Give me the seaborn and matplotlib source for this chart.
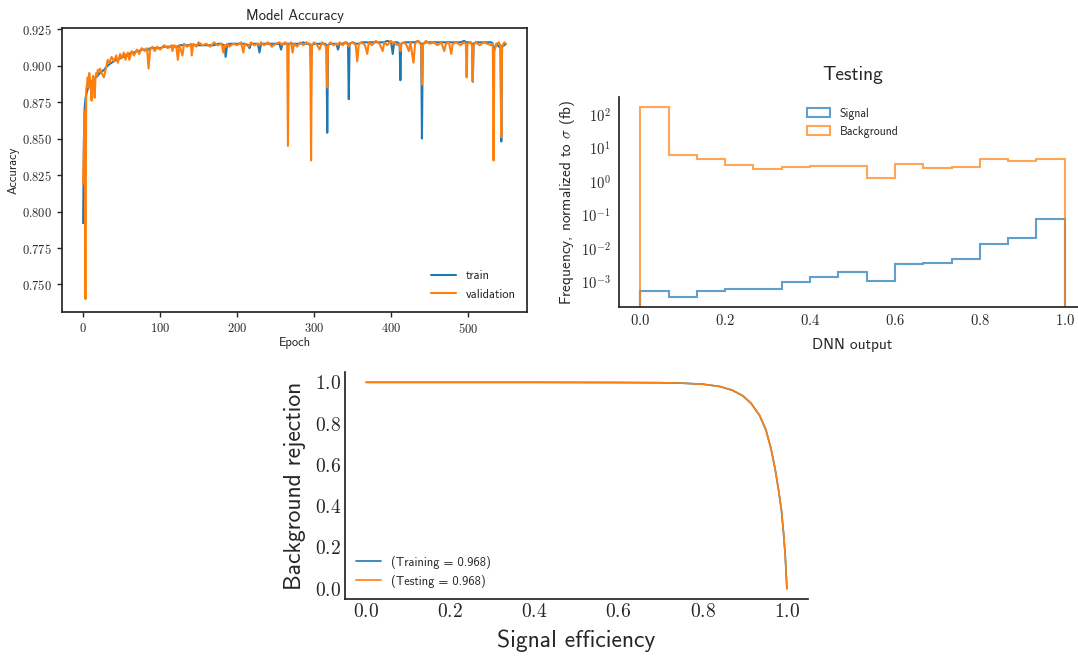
import numpy as np
import pandas as pd
import matplotlib
matplotlib.use("Agg")
import matplotlib.pyplot as plt
from matplotlib.ticker import FuncFormatter, MultipleLocator, LogLocator, NullFormatter
import seaborn as sns

# <--- data --->
# training history (epoch, train accuracy, validation accuracy)
epochs = [
    0, 1, 2, 3, 4, 5, 6, 7, 8, 9, 10, 11, 12, 13, 14, 15, 16, 17, 18, 19, 20,
    22, 24, 27, 30, 32, 34, 37, 40, 43, 45, 48, 50, 53, 55, 58, 60, 63, 66, 70,
    73, 76, 80, 83, 85, 87, 90, 93, 96, 100,
    105, 110, 115, 116, 118, 121, 123, 125, 129, 131, 135, 140, 141, 143, 147,
    150, 155, 160, 165, 170, 175, 180, 182, 184, 185, 187, 190, 195, 200, 205,
    208, 210, 215, 216, 218, 222, 227, 229, 231, 235, 240, 245, 250, 255, 257,
    259, 262, 265, 266, 267, 270, 272, 274, 278, 282, 286, 290, 294, 295, 296,
    297, 300, 304, 307, 310, 314, 316, 317, 318, 321, 325, 329, 331, 333, 337,
    341, 344, 345, 346, 350, 354, 356, 358, 362, 366, 369, 371, 375, 380, 385,
    389, 391, 395, 400, 402, 404, 408, 411, 412, 413, 417, 420, 423, 425, 429,
    431, 435, 439, 440, 441, 445, 450, 455, 460, 465, 469, 471, 475, 478, 480,
    485, 490, 495, 497, 498, 499, 503, 505, 506, 507, 510, 515, 520, 525, 530,
    532, 533, 534, 537, 540, 542, 543, 544, 547, 549,
]
train_acc = [
    0.792, 0.848, 0.871, 0.877, 0.880, 0.882, 0.884, 0.885, 0.886, 0.887, 0.888,
    0.889, 0.889, 0.890, 0.891, 0.891, 0.892, 0.892, 0.893, 0.893, 0.894,
    0.895, 0.896, 0.897, 0.899, 0.900, 0.901, 0.902, 0.903, 0.904, 0.904, 0.905,
    0.906, 0.906, 0.907, 0.908, 0.908, 0.909, 0.909, 0.910, 0.910, 0.911, 0.911,
    0.911, 0.911, 0.912, 0.912, 0.912, 0.912, 0.912,
    0.913, 0.913, 0.913, 0.913, 0.913, 0.913, 0.913, 0.914, 0.914, 0.914, 0.914,
    0.914, 0.914, 0.914, 0.914, 0.914, 0.914, 0.914, 0.914, 0.914, 0.915, 0.915,
    0.914, 0.914, 0.906, 0.914, 0.915, 0.915, 0.915, 0.915, 0.915, 0.915, 0.914,
    0.912, 0.915, 0.915, 0.915, 0.909, 0.915, 0.915, 0.915, 0.915, 0.915, 0.915,
    0.911, 0.915, 0.915, 0.915, 0.915, 0.915, 0.915, 0.915, 0.915, 0.915, 0.915,
    0.916, 0.915, 0.915, 0.914, 0.897, 0.914, 0.915, 0.915, 0.915, 0.915, 0.915,
    0.914, 0.854, 0.914, 0.915, 0.915, 0.915, 0.911, 0.915, 0.915, 0.916, 0.915,
    0.877, 0.915, 0.916, 0.915, 0.915, 0.915, 0.916, 0.916, 0.916, 0.916, 0.916,
    0.916, 0.916, 0.916, 0.916, 0.917, 0.916, 0.908, 0.916, 0.916, 0.915, 0.890,
    0.915, 0.916, 0.916, 0.916, 0.916, 0.916, 0.916, 0.917, 0.915, 0.850, 0.915,
    0.916, 0.916, 0.916, 0.916, 0.916, 0.916, 0.916, 0.916, 0.916, 0.916, 0.916,
    0.916, 0.917, 0.916, 0.916, 0.916, 0.916, 0.915, 0.889, 0.915, 0.916, 0.916,
    0.916, 0.916, 0.916, 0.915, 0.908, 0.912, 0.915, 0.913, 0.914, 0.848, 0.913,
    0.914, 0.915,
]
val_acc = [
    0.819, 0.845, 0.869, 0.740, 0.884, 0.887, 0.892, 0.885, 0.895, 0.889, 0.884,
    0.876, 0.889, 0.893, 0.887, 0.878, 0.891, 0.895, 0.893, 0.897, 0.896,
    0.898, 0.895, 0.892, 0.899, 0.904, 0.902, 0.906, 0.903, 0.907, 0.902, 0.908,
    0.905, 0.909, 0.904, 0.909, 0.904, 0.910, 0.907, 0.911, 0.908, 0.912, 0.910,
    0.912, 0.898, 0.911, 0.913, 0.910, 0.913, 0.911,
    0.914, 0.912, 0.914, 0.910, 0.914, 0.913, 0.904, 0.914, 0.907, 0.915, 0.913,
    0.915, 0.907, 0.915, 0.913, 0.916, 0.914, 0.915, 0.913, 0.916, 0.914, 0.915,
    0.909, 0.914, 0.913, 0.915, 0.913, 0.915, 0.914, 0.916, 0.909, 0.915, 0.913,
    0.914, 0.916, 0.914, 0.915, 0.914, 0.916, 0.914, 0.916, 0.913, 0.915, 0.916,
    0.915, 0.914, 0.916, 0.915, 0.845, 0.914, 0.916, 0.909, 0.915, 0.913, 0.916,
    0.914, 0.916, 0.914, 0.915, 0.835, 0.914, 0.916, 0.914, 0.911, 0.916, 0.914,
    0.913, 0.885, 0.914, 0.916, 0.914, 0.915, 0.914, 0.916, 0.914, 0.916, 0.914,
    0.913, 0.915, 0.916, 0.914, 0.903, 0.915, 0.916, 0.914, 0.908, 0.916, 0.914,
    0.917, 0.915, 0.910, 0.916, 0.914, 0.917, 0.915, 0.916, 0.914, 0.915, 0.910,
    0.915, 0.916, 0.914, 0.910, 0.916, 0.902, 0.915, 0.917, 0.914, 0.887, 0.914,
    0.917, 0.915, 0.916, 0.914, 0.916, 0.910, 0.915, 0.916, 0.908, 0.915, 0.916,
    0.914, 0.916, 0.915, 0.892, 0.915, 0.916, 0.914, 0.889, 0.914, 0.916, 0.914,
    0.916, 0.915, 0.914, 0.915, 0.835, 0.910, 0.915, 0.916, 0.913, 0.851, 0.913,
    0.916, 0.915,
]

# DNN output histogram, 15 bins on [0, 1], normalised to cross section (fb)
bin_edges = np.linspace(0.0, 1.0, 16)
signal_freq = [5.0e-4, 3.3e-4, 5.2e-4, 5.9e-4, 6.0e-4, 9.6e-4, 1.33e-3, 1.87e-3,
               1.03e-3, 3.3e-3, 3.45e-3, 4.7e-3, 0.0127, 0.0199, 0.072]
background_freq = [170.0, 6.0, 4.6, 3.05, 2.3, 2.6, 2.8, 2.8, 1.25, 3.2, 2.4, 2.6,
                   4.5, 4.0, 4.6]

# ROC curves
roc_sig_eff = [0.0, 0.2, 0.4, 0.6, 0.7, 0.75, 0.8, 0.84, 0.87, 0.895, 0.915,
               0.935, 0.95, 0.962, 0.972, 0.98, 0.987, 0.992, 0.996, 0.998, 1.0]
roc_bkg_rej_train = [1.0, 1.0, 1.0, 0.999, 0.998, 0.996, 0.991, 0.98, 0.962, 0.935,
                     0.898, 0.84, 0.77, 0.68, 0.58, 0.48, 0.38, 0.27, 0.16, 0.08, 0.0]
roc_bkg_rej_test = [1.0, 1.0, 1.0, 0.999, 0.998, 0.996, 0.991, 0.98, 0.962, 0.935,
                    0.898, 0.84, 0.77, 0.68, 0.58, 0.48, 0.38, 0.27, 0.16, 0.08, 0.0]
auc_train = 0.968
auc_test = 0.968

blue = "#1f77b4"
orange = "#ff7f0e"

sns.set_theme(style="ticks")
plt.rcParams["font.family"] = ["cmss10", "DejaVu Sans"]
plt.rcParams["mathtext.fontset"] = "cm"
plt.rcParams["axes.unicode_minus"] = False


def cm_fmt(fmt):
    return FuncFormatter(lambda v, pos: "$" + format(v, fmt) + "$")


def log_fmt(v, pos):
    return "$10^{%d}$" % int(round(np.log10(v)))


fig = plt.figure(figsize=(10.78, 6.59), dpi=100)

# --- Model accuracy ---
ax1 = fig.add_axes([0.0575, 0.5266, 0.4314, 0.431])
hist_df = pd.DataFrame({"epoch": epochs, "train": train_acc, "validation": val_acc})
sns.lineplot(data=hist_df, x="epoch", y="train", ax=ax1, color=blue, lw=1.5, label="train")
sns.lineplot(data=hist_df, x="epoch", y="validation", ax=ax1, color=orange, lw=1.5,
             label="validation")
ax1.set_title("Model Accuracy", fontsize=10.5)
ax1.set_xlabel("Epoch", fontsize=9, labelpad=1)
ax1.set_ylabel("Accuracy", fontsize=9, labelpad=2)
ax1.yaxis.set_major_locator(MultipleLocator(0.025))
ax1.xaxis.set_major_locator(MultipleLocator(100))
ax1.yaxis.set_major_formatter(cm_fmt(".3f"))
ax1.xaxis.set_major_formatter(cm_fmt(".0f"))
ax1.tick_params(labelsize=9, length=3.5, width=1)
ax1.legend(loc="lower right", frameon=False, fontsize=9)

# --- Testing histogram ---
ax2 = fig.add_axes([0.5742, 0.5341, 0.4332, 0.3187])
ax2.hist(bin_edges[:-1], bins=bin_edges, weights=signal_freq, histtype="step",
         lw=1.5, alpha=0.7, color=blue, label="Signal", log=True)
ax2.hist(bin_edges[:-1], bins=bin_edges, weights=background_freq, histtype="step",
         lw=1.5, alpha=0.7, color=orange, label="Background", log=True)
sns.despine(ax=ax2)
ax2.tick_params(left=False, bottom=False, which="both", length=0, labelsize=10.5)
ax2.tick_params(axis="x", pad=4.5)
ax2.tick_params(axis="y", pad=6)
ax2.xaxis.set_major_locator(MultipleLocator(0.2))
ax2.xaxis.set_major_formatter(cm_fmt(".1f"))
ax2.yaxis.set_major_locator(LogLocator(base=10))
ax2.yaxis.set_major_formatter(FuncFormatter(log_fmt))
ax2.yaxis.set_minor_formatter(NullFormatter())
ax2.set_title("Testing", fontsize=14, pad=12)
ax2.set_xlabel("DNN output", fontsize=11, labelpad=7)
ax2.set_ylabel("Frequency, normalized to $\\sigma$ (fb)", fontsize=11, labelpad=3)
ax2.legend(loc="upper center", frameon=False, fontsize=8.5)

# --- ROC ---
ax3 = fig.add_axes([0.3200, 0.0910, 0.4295, 0.3445])
roc_df = pd.DataFrame({"eff": roc_sig_eff, "rej_train": roc_bkg_rej_train,
                       "rej_test": roc_bkg_rej_test})
sns.lineplot(data=roc_df, x="eff", y="rej_train", ax=ax3, color=blue, lw=1.2,
             label="(Training = %.3f)" % auc_train)
sns.lineplot(data=roc_df, x="eff", y="rej_test", ax=ax3, color=orange, lw=1.2,
             label="(Testing = %.3f)" % auc_test)
sns.despine(ax=ax3)
ax3.tick_params(left=False, bottom=False, length=0, labelsize=14)
ax3.tick_params(axis="x", pad=3)
ax3.tick_params(axis="y", pad=3)
ax3.xaxis.set_major_locator(MultipleLocator(0.2))
ax3.yaxis.set_major_locator(MultipleLocator(0.2))
ax3.xaxis.set_major_formatter(cm_fmt(".1f"))
ax3.yaxis.set_major_formatter(cm_fmt(".1f"))
ax3.set_xlabel("Signal efficiency", fontsize=17, labelpad=6)
ax3.set_ylabel("Background rejection", fontsize=17, labelpad=6)
ax3.legend(loc="lower left", frameon=False, fontsize=9)

fig.savefig("out.png", dpi=100)
